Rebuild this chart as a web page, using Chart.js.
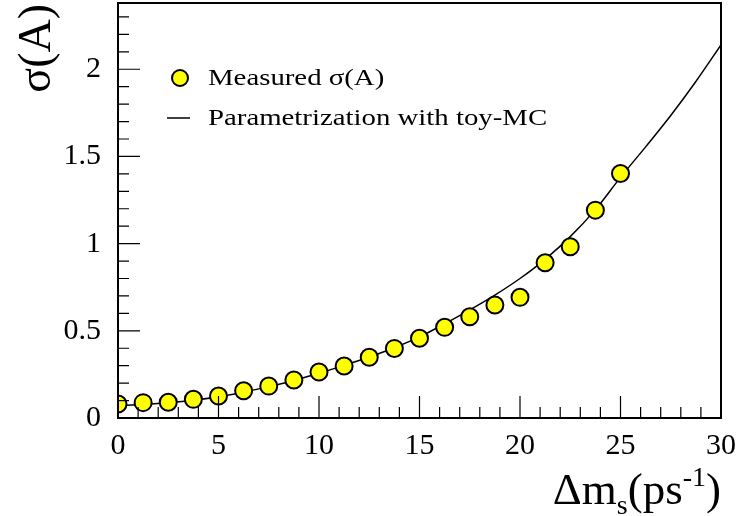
<!DOCTYPE html>
<html>
<head>
<meta charset="utf-8">
<script src="https://cdn.jsdelivr.net/npm/chart.js@4.4.1/dist/chart.umd.min.js"></script>
<style>
  html, body { margin: 0; padding: 0; background: #fff; }
  #wrap { width: 739px; height: 516px; }
</style>
</head>
<body>
<div id="wrap"><canvas id="sigmaChart" width="739" height="516"></canvas></div>
<script>
// === DATOS ===
const dmMeasured = [0, 1.25, 2.5, 3.75, 5, 6.25, 7.5, 8.75, 10, 11.25, 12.5, 13.75, 15, 16.25, 17.5, 18.75, 20, 21.25, 22.5, 23.75, 25];
const sigmaMeasured = [0.080, 0.088, 0.090, 0.107, 0.126, 0.156, 0.183, 0.218, 0.264, 0.298, 0.348, 0.399, 0.457, 0.520, 0.581, 0.648, 0.692, 0.890, 0.982, 1.192, 1.402];

const dmCurve = [0, 1.25, 2.5, 3.75, 5, 6.25, 7.5, 8.75, 10, 11.25, 12.5, 13.75, 15, 16.25, 17.5, 18.75, 20, 21.25, 22.5, 23.75, 25, 26.25, 27.5, 28.75, 30];
const sigmaCurve = [0.070, 0.078, 0.088, 0.102, 0.122, 0.148, 0.180, 0.215, 0.257, 0.302, 0.350, 0.403, 0.465, 0.540, 0.620, 0.705, 0.800, 0.910, 1.040, 1.195, 1.380, 1.555, 1.735, 1.930, 2.140];

const xTickValues = [0, 5, 10, 15, 20, 25, 30];
const yTickValues = [0, 0.5, 1, 1.5, 2];

const legendLabels = ["Measured \u03c3(A)", "Parametrization with toy-MC"];

const serif = "'Liberation Serif', 'DejaVu Serif', serif";

// === TICKS HACIA DENTRO Y MARCO (estilo ROOT) ===
const frameTicks = {
  id: "frameTicks",
  afterDatasetsDraw(chart) {
    const { ctx, chartArea: a, scales: { x, y } } = chart;
    ctx.save();
    ctx.strokeStyle = "#000";
    ctx.lineWidth = 1.2;
    ctx.beginPath();
    for (let i = 0; i <= 30; i++) {
      const px = x.getPixelForValue(i);
      const len = i % 5 === 0 ? 22 : 11;
      ctx.moveTo(px, a.bottom);
      ctx.lineTo(px, a.bottom - len);
    }
    for (let i = 0; i <= 23; i++) {
      const py = y.getPixelForValue(i / 10);
      const len = i % 5 === 0 ? 22 : 11;
      ctx.moveTo(a.left, py);
      ctx.lineTo(a.left + len, py);
    }
    ctx.stroke();
    ctx.lineWidth = 2;
    ctx.strokeRect(a.left, a.top, a.right - a.left, a.bottom - a.top);
    ctx.restore();
  }
};

// === LEYENDA Y TITULOS DE EJES ===
const labelsPlugin = {
  id: "labelsPlugin",
  afterDraw(chart) {
    const { ctx, chartArea: a } = chart;
    ctx.save();
    ctx.fillStyle = "#000";

    // leyenda
    ctx.beginPath();
    ctx.arc(180, 78, 8, 0, Math.PI * 2);
    ctx.fillStyle = "#ffff00";
    ctx.fill();
    ctx.lineWidth = 2;
    ctx.strokeStyle = "#000";
    ctx.stroke();
    ctx.beginPath();
    ctx.lineWidth = 1.5;
    ctx.moveTo(167, 118);
    ctx.lineTo(190, 118);
    ctx.stroke();

    ctx.fillStyle = "#000";
    ctx.font = "24px " + serif;
    ctx.textBaseline = "middle";
    ctx.textAlign = "left";
    const stretch = 1.2;
    ctx.save();
    ctx.translate(208, 0);
    ctx.scale(stretch, 1);
    ctx.fillText(legendLabels[0], 0, 79);
    ctx.fillText(legendLabels[1], 0, 119);
    ctx.restore();

    // titulo eje X: Δm_s(ps^-1)
    ctx.textBaseline = "alphabetic";
    const big = "45px " + serif, small = "28px " + serif;
    const parts = [
      { t: "\u0394m", f: big, dy: 0 },
      { t: "s", f: small, dy: 10 },
      { t: "(ps", f: big, dy: 0 },
      { t: "-1", f: small, dy: -18 },
      { t: ")", f: big, dy: 0 }
    ];
    let total = 0;
    parts.forEach(p => { ctx.font = p.f; p.w = ctx.measureText(p.t).width; total += p.w; });
    let cx = a.right - total;
    const base = 504;
    parts.forEach(p => { ctx.font = p.f; ctx.fillText(p.t, cx, base + p.dy); cx += p.w; });

    // titulo eje Y: σ(A)
    ctx.translate(50, 4);
    ctx.rotate(-Math.PI / 2);
    ctx.font = "46px " + serif;
    ctx.textAlign = "right";
    ctx.fillText("\u03c3(A)", 0, 0);
    ctx.restore();
  }
};

const toXY = (xs, ys) => xs.map((v, i) => ({ x: v, y: ys[i] }));

const noPadding = s => { s.paddingTop = 0; s.paddingBottom = 0; s.paddingLeft = 0; s.paddingRight = 0; };

new Chart(document.getElementById("sigmaChart"), {
  type: "scatter",
  data: {
    datasets: [
      {
        label: legendLabels[0],
        data: toXY(dmMeasured, sigmaMeasured),
        pointRadius: 8.5,
        pointBackgroundColor: "#ffff00",
        pointBorderColor: "#000",
        pointBorderWidth: 2,
        showLine: false,
        clip: 0,
        order: 0
      },
      {
        label: legendLabels[1],
        data: toXY(dmCurve, sigmaCurve),
        showLine: true,
        borderColor: "#000",
        borderWidth: 1.5,
        pointRadius: 0,
        cubicInterpolationMode: "monotone",
        clip: 0,
        order: 1
      }
    ]
  },
  options: {
    responsive: false,
    animation: false,
    devicePixelRatio: 1,
    layout: { autoPadding: false, padding: { top: 3, right: 18, left: 0, bottom: 0 } },
    plugins: { legend: { display: false }, tooltip: { enabled: false } },
    scales: {
      x: {
        type: "linear",
        min: 0,
        max: 30,
        grid: { display: false, drawTicks: false },
        border: { display: false },
        afterBuildTicks: s => { s.ticks = xTickValues.map(v => ({ value: v })); },
        afterFit: s => { s.height = 98; noPadding(s); },
        ticks: {
          color: "#000",
          padding: 10,
          maxRotation: 0,
          font: { family: serif, size: 30 },
          callback: v => String(v)
        }
      },
      y: {
        type: "linear",
        min: 0,
        max: 2.38,
        grid: { display: false, drawTicks: false },
        border: { display: false },
        afterBuildTicks: s => { s.ticks = yTickValues.map(v => ({ value: v })); },
        afterFit: s => { s.width = 118; noPadding(s); },
        ticks: {
          color: "#000",
          padding: 17,
          font: { family: serif, size: 30 },
          callback: v => String(+v.toFixed(2))
        }
      }
    }
  },
  plugins: [frameTicks, labelsPlugin]
});
</script>
</body>
</html>
